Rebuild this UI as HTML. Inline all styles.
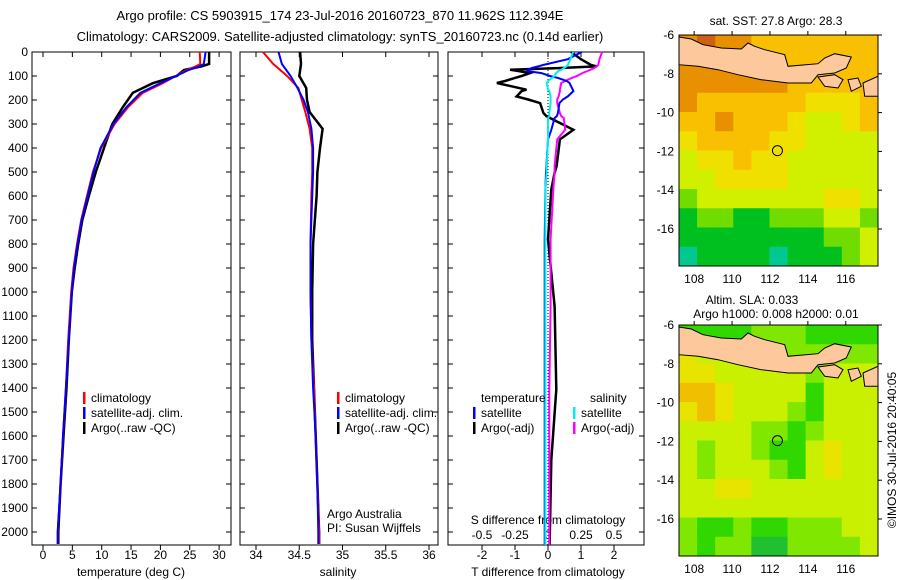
<!DOCTYPE html>
<html><head><meta charset="utf-8"><style>
body{margin:0;background:#fff;}
svg{display:block;font-family:"Liberation Sans",sans-serif;font-size:12px;}
</style></head><body>
<svg id="chart" width="900" height="580" viewBox="0 0 900 580">
<text x="340" y="20" text-anchor="middle" style="font-size:13px">Argo profile: CS 5903915_174 23-Jul-2016 20160723_870 11.962S 112.394E</text>
<text x="340" y="41" text-anchor="middle" style="font-size:13px">Climatology: CARS2009. Satellite-adjusted climatology: synTS_20160723.nc (0.14d earlier)</text>
<g id="g"></g>
</svg>
<script>
// ---- profile data ----
const depthT = [0,50,60,75,100,130,170,230,300,400,500,600,700,800,900,1000,1200,1400,1600,1800,2000,2050];
const tempClim = [26.7,26.8,26.0,24.5,22.6,20.4,17.0,14.5,12.2,9.9,8.5,7.5,6.5,5.8,5.2,4.8,4.3,3.9,3.4,3.0,2.5,2.5];
const tempSat  = [27.7,27.4,26.6,24.8,22.7,20.0,16.6,14.2,12.0,9.8,8.6,7.6,6.6,5.9,5.3,4.9,4.4,3.9,3.4,3.0,2.5,2.5];
const tempArgo = [28.3,28.3,27.0,24.0,22.8,18.7,15.3,13.6,11.8,10.4,9.0,7.8,6.7,6.0,5.4,4.9,4.4,4.0,3.5,3.0,2.6,2.6];
const depthS = [0,50,100,150,200,250,320,400,500,600,800,1000,1200,1400,1600,1800,2000,2050];
const salClim = [34.08,34.2,34.36,34.49,34.53,34.57,34.62,34.65,34.65,34.64,34.63,34.63,34.64,34.67,34.69,34.71,34.73,34.73];
const salSat  = [34.26,34.3,34.4,34.48,34.55,34.6,34.64,34.66,34.66,34.65,34.63,34.63,34.64,34.66,34.69,34.71,34.72,34.72];
const salArgo = [34.51,34.52,34.5,34.58,34.59,34.62,34.77,34.74,34.71,34.7,34.66,34.65,34.65,34.67,34.69,34.71,34.73,34.73];
const depthD = [0,30,54,60,67,74,79,88,100,108,121,129,157,163,185,198,213,254,267,275,324,364,476,503,573,781,1059,1406,1700,2054];
const tDiffSat  = [1.02,0.6,-0.15,-0.3,-0.5,-0.6,-0.64,-0.2,0.06,0.3,0.57,0.65,0.75,0.77,0.6,0.45,0.35,0.3,0.27,0.2,0.1,0.0,-0.05,-0.06,-0.08,-0.1,-0.1,-0.1,-0.1,-0.1];
const tDiffArgo = [0.7,1.0,1.3,1.47,0.3,-1.15,-0.9,-0.55,-0.8,-1.0,-1.3,-1.55,-0.65,-0.8,-0.95,-0.6,-0.24,-0.14,-0.05,0.06,0.77,0.36,0.26,0.2,0.1,0.0,0.2,0.25,0.1,0.05];
const sDiffSat  = [0.19,0.17,0.15,0.14,0.12,0.1,0.08,0.06,0.05,0.03,0.0,-0.01,0.0,0.01,0.02,0.02,0.02,0.01,0.01,0.0,0.0,0.0,-0.01,-0.01,-0.02,-0.02,-0.02,-0.02,-0.02,-0.02];
const sDiffArgo = [0.41,0.39,0.38,0.37,0.35,0.32,0.3,0.26,0.22,0.18,0.13,0.1,0.09,0.09,0.08,0.07,0.07,0.09,0.1,0.12,0.13,0.07,0.05,0.05,0.04,0.02,0.02,0.01,0.01,0.01];
const depthTicks = [0,100,200,300,400,500,600,700,800,900,1000,1100,1200,1300,1400,1500,1600,1700,1800,1900,2000];
const tempTicks = [0,5,10,15,20,25,30];
const salTicks = [34,34.5,35,35.5,36];
const tDiffTicks = [-2,-1,0,1,2];
const sDiffTicks = [-0.5,-0.25,0,0.25,0.5];
// ---- map data (rows lat -6 -> -18, cols lon 107.2 -> 117.7) ----
const sstGrid = [
[6,7,6,6,5,5,5,5,5,5,5],
[6,6,6,6,6,5,5,5,5,5,5],
[6,6,6,6,6,6,5,5,5,5,5],
[6,5,5,5,5,5,5,4,4,4,5],
[5,5,6,5,5,5,4,3,3,4,5],
[4,5,5,5,5,4,4,3,3,3,3],
[3,4,4,5,4,4,3,3,3,3,3],
[3,3,4,4,4,4,3,3,3,3,3],
[2,3,3,3,3,3,3,3,4,4,3],
[1,2,2,1,1,2,2,2,3,3,2],
[1,1,1,1,1,1,1,1,2,2,3],
[0,1,1,1,1,0,1,1,1,2,3]];
const slaGrid = [
[1,1,1,1,2,2,2,1,1,1,1],
[4,3,3,2,2,2,2,2,2,2,2],
[4,4,3,3,3,3,3,2,3,3,3],
[5,5,4,3,3,3,3,1,3,3,3],
[4,5,4,3,3,3,2,1,3,3,3],
[3,3,3,3,2,2,1,2,3,3,3],
[3,2,3,3,2,1,1,3,4,3,3],
[3,2,3,3,3,2,1,3,4,3,3],
[3,3,4,4,3,3,3,3,3,3,3],
[3,3,3,3,3,3,3,3,3,3,3],
[2,1,1,2,1,1,2,2,2,3,3],
[2,1,2,2,0,0,2,2,2,2,3]];
const lonTicks = [108,110,112,114,116];
const latTicks = [-6,-8,-10,-12,-14,-16];
const argoLon = 112.394, argoLat = -11.962;

const NS='http://www.w3.org/2000/svg';
const G=document.getElementById('g');
function el(t,a,p){const e=document.createElementNS(NS,t);for(const k in a)e.setAttribute(k,a[k]);(p||G).appendChild(e);return e;}
function txt(x,y,s,anchor,p){const e=el('text',{x:x,y:y,'text-anchor':anchor||'start'},p);e.textContent=s;return e;}
const top0=52, yScale=0.24, bot=545;
const yD=d=>top0+d*yScale;
const panels=[{x0:32,x1:231},{x0:240,x1:438},{x0:448,x1:644}];
const xT=v=>43+v*5.87, xS=v=>256+(v-34)*86.5, xTD=v=>548+v*33, xSD=v=>548+v*132;
panels.forEach((p,i)=>{
  const r=el('rect',{x:p.x0,y:top0,width:p.x1-p.x0,height:bot-top0,fill:'none',stroke:'#000'});
  
  
  depthTicks.forEach(d=>{el('line',{x1:p.x0,x2:p.x0+5,y1:yD(d),y2:yD(d),stroke:'#000'});el('line',{x1:p.x1,x2:p.x1-5,y1:yD(d),y2:yD(d),stroke:'#000'});});
});
depthTicks.forEach(d=>{const t=txt(28,yD(d)+4,String(d),'end');});
function xticks(ticks,f,p,labelY){ticks.forEach(v=>{const x=f(v);el('line',{x1:x,x2:x,y1:top0,y2:top0+5,stroke:'#000'});el('line',{x1:x,x2:x,y1:bot,y2:bot+5,stroke:'#000'});if(labelY){const t=txt(x,labelY,String(v),'middle');}});}
xticks(tempTicks,xT,panels[0],559);
xticks(salTicks,xS,panels[1],559);
xticks(tDiffTicks,xTD,panels[2],559);
sDiffTicks.forEach(v=>{const t=txt(xSD(v),539,String(v),'middle');});
function axTitle(x,s,name){const t=txt(x,576,s,'middle');}
axTitle(131,'temperature (deg C)','x-axis-title-temperature');
axTitle(338,'salinity','x-axis-title-salinity');
axTitle(548,'T difference from climatology','x-axis-title-t-diff');
const st=txt(548,524,'S difference from climatology','middle');
function line(ds,vs,f,color,w,name){const pts=ds.map((d,i)=>f(vs[i]).toFixed(1)+','+yD(d).toFixed(1)).join(' ');const e=el('polyline',{points:pts,fill:'none',stroke:color,'stroke-width':w});}
line(depthT,tempArgo,xT,'#000',2.5,'temp-argo-line');
line(depthT,tempClim,xT,'#f00',2,'temp-climatology-line');
line(depthT,tempSat,xT,'#00f',2,'temp-satellite-line');
line(depthS,salArgo,xS,'#000',2.5,'sal-argo-line');
line(depthS,salClim,xS,'#f00',2,'sal-climatology-line');
line(depthS,salSat,xS,'#00f',2,'sal-satellite-line');
el('line',{x1:548,x2:548,y1:top0,y2:bot,stroke:'#000','stroke-dasharray':'1,2'});
line(depthD,tDiffArgo,xTD,'#000',2.5,'t-diff-argo-line');
line(depthD,sDiffArgo,xSD,'#f0f',2,'s-diff-argo-line');
line(depthD,tDiffSat,xTD,'#00f',2,'t-diff-satellite-line');
line(depthD,sDiffSat,xSD,'#0ee',2,'s-diff-satellite-line');
function leg(x,y,color,s,name){el('rect',{x:x,y:y-10,width:2.5,height:12,fill:color});const t=txt(x+8,y,s);}
[[83,'#f00','climatology'],[83,'#00f','satellite-adj. clim.'],[83,'#000','Argo(..raw -QC)']].forEach((l,i)=>leg(l[0],402+i*15,l[1],l[2],'legend-entry-temp'));
[[337,'#f00','climatology'],[337,'#00f','satellite-adj. clim.'],[337,'#000','Argo(..raw -QC)']].forEach((l,i)=>leg(l[0],402+i*15,l[1],l[2],'legend-entry-sal'));
txt(481,402,'temperature');txt(590,402,'salinity');
leg(473,417,'#00f','satellite','legend-entry-t-sat');leg(473,432,'#000','Argo(-adj)','legend-entry-t-argo');
leg(573,417,'#0ee','satellite','legend-entry-s-sat');leg(573,432,'#f0f','Argo(-adj)','legend-entry-s-argo');
txt(327,518,'Argo Australia');txt(327,532,'PI: Susan Wijffels');
// ---- maps ----
const mx0=679, mx1=878, lonL=107.2, lonR=117.7;
const xL=lon=>mx0+(lon-lonL)*(mx1-mx0)/(lonR-lonL);
const sstCol=['#00c890','#00c020','#70dc00','#d0f000','#f0e000','#f8c000','#e89000','#d06010'];
const slaCol=['#20c030','#30d800','#80e800','#c8f000','#e8e400','#f0c000'];
function map(y0,grid,cols,name){
  const yL=lat=>y0+(-6-lat)*19.4;
  const yB=y0+231;
  const gg=el('g',{});
  
  
  const nr=grid.length, nc=grid[0].length, cw=(mx1-mx0)/nc, ch=(yB-y0)/nr;
  grid.forEach((row,r)=>row.forEach((v,c)=>{const cell=el('rect',{x:mx0+c*cw,y:y0+r*ch,width:cw+0.5,height:ch+0.5,fill:cols[v]},gg);}));
  const P=pts=>pts.map(p=>Math.min(878,678+p[0]/3).toFixed(1)+','+(y0-2+p[1]/3).toFixed(1)).join(' ');
  const land=[
   [[3,12],[40,18],[75,35],[130,45],[190,48],[210,30],[230,40],[260,50],[320,65],[330,100],[420,92],[440,75],[470,62],[520,72],[505,105],[470,120],[420,125],[400,150],[330,150],[250,140],[180,125],[120,110],[60,100],[3,95]],
   [[420,132],[470,125],[495,140],[480,165],[440,160]],
   [[510,140],[540,135],[550,160],[520,175]],
   [[555,150],[600,130],[606,130],[606,190],[560,190]]];
  land.forEach(l=>{const e=el('polygon',{points:P(l),fill:'#fcc89c',stroke:'#000','stroke-width':1},gg);});
  el('rect',{x:mx0,y:y0,width:mx1-mx0,height:yB-y0,fill:'none',stroke:'#000'});
  lonTicks.forEach(v=>{el('line',{x1:xL(v),x2:xL(v),y1:y0,y2:y0-4,stroke:'#000'});const t=txt(xL(v),yB+17,String(v),'middle');});
  latTicks.forEach(v=>{el('line',{x1:mx1,x2:mx1+4,y1:yL(v),y2:yL(v),stroke:'#000'});const t=txt(674,yL(v)+4,String(v),'end');});
  const c=el('circle',{cx:xL(argoLon),cy:yL(argoLat),r:5,fill:'none',stroke:'#000'});
  
  
}
map(35,sstGrid,sstCol,'sst-map');
map(325,slaGrid,slaCol,'sla-map');
const t1=txt(776,25,'sat. SST: 27.8 Argo: 28.3','middle');
const t2=txt(752,304,'Altim. SLA: 0.033','middle');
const t3=txt(776,318,'Argo h1000: 0.008 h2000: 0.01','middle');
const cr=txt(0,0,'©IMOS 30-Jul-2016 20:40:05','middle');cr.setAttribute('transform','translate(896,450) rotate(-90)');


</script>
</body></html>
